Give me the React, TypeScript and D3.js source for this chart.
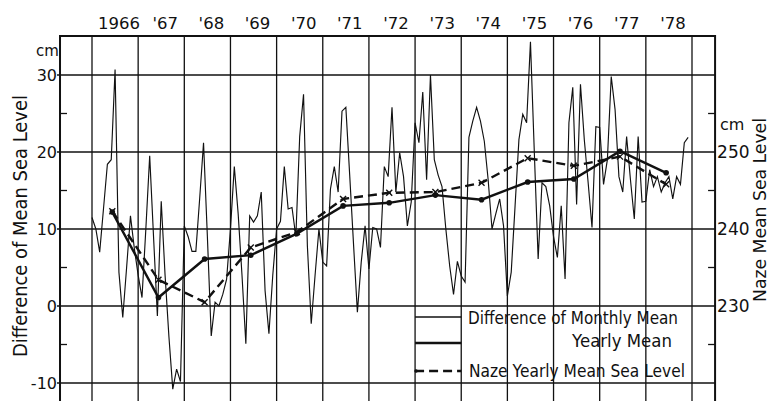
import React from 'react';
import * as d3 from 'd3';

// ---- data ----
const years = [1966, 1967, 1968, 1969, 1970, 1971, 1972, 1973, 1974, 1975, 1976, 1977, 1978];
const yearLabels = ['1966', "'67", "'68", "'69", "'70", "'71", "'72", "'73", "'74", "'75", "'76", "'77", "'78"];

// Difference of monthly mean sea level (cm), Jan..Dec of each year
const m1966 = [11.5, 10, 7, 12.7, 18.4, 19, 30.7, 4.4, -1.5, 5, 11.7, 7.5];
const m1967 = [4, 1.1, 10, 19.5, 9, -1.3, 13.6, 4, -4, -10.8, -8.2, -9.8];
const m1968 = [10.4, 9, 7.1, 7.1, 14, 21.2, 9, -3.9, 0.5, 0, 1.5, 3.5];
const m1969 = [10, 18.1, 12, 4, -4.9, 11.7, 10.9, 11.7, 14.8, 2, -3.6, 4];
const m1970 = [10, 11, 18.1, 12.6, 12.8, 9, 22, 27.5, 7.8, -2.3, 4, 10];
const m1971 = [5.7, 5.2, 15.2, 18.1, 14.8, 25.3, 25.8, 17, 8, -0.8, 5.7, 10.4];
const m1972 = [4.8, 10.2, 10, 7.6, 18.1, 16.8, 25.8, 14.8, 19.9, 16.8, 10.4, 13.5];
const m1973 = [23.8, 21.2, 27.8, 16.4, 30, 19, 17, 15.5, 10, 5.2, 1.5, 5.8];
const m1974 = [3.9, 3.1, 21.9, 24, 25.8, 24, 21.4, 16.4, 10, 12, 13.9, 10.4];
const m1975 = [1.3, 4.4, 13, 21.6, 24.9, 23.8, 34.3, 20, 6.1, 16, 15.5, 13];
const m1976 = [9, 6.3, 13, 3.5, 23.8, 28.4, 13.2, 28.8, 21.6, 16, 10.2, 23.3];
const m1977 = [23.2, 15.8, 19, 29.8, 25.5, 16.8, 14.8, 22, 16.4, 11.3, 22, 13.5];
const m1978 = [13.6, 17.7, 15.5, 16.8, 14.8, 16, 16.8, 13.9, 16.8, 15.8, 21.2, 21.9];
const monthlyByYear = [m1966, m1967, m1968, m1969, m1970, m1971, m1972, m1973, m1974, m1975, m1976, m1977, m1978];

// Yearly mean of difference (cm, left axis)
const yearlyMean = [12.2, 1.1, 6.1, 6.6, 9.4, 13.0, 13.4, 14.4, 13.8, 16.1, 16.5, 20.1, 17.3];
// Naze yearly mean sea level (cm, right axis)
const nazeYearly = [242.3, 233.4, 230.5, 237.6, 239.6, 243.9, 244.7, 244.8, 246.0, 249.2, 248.2, 249.4, 245.8];

const leftTicks = [30, 20, 10, 0, -10];
const leftMinor = [25, 15, 5, -5];
const rightTicks = [250, 240, 230];
const rightMinor = [255, 245, 235, 225];

const FONT = '"DejaVu Sans", "Liberation Sans", sans-serif';
const INK = '#111';

export default function App() {
  const W = 771, H = 401;
  const x = d3.scaleLinear().domain([1966, 1979]).range([92, 692]);
  const y = d3.scaleLinear().domain([-10, 30]).range([383, 75]);
  const yR = d3.scaleLinear().domain([220, 260]).range([383, 75]);
  const left = x(1965.307), right = x(1979.5), top = 36;

  const monthly = monthlyByYear.flatMap((arr, i) => arr.map((v, m) => ({ t: years[i] + m / 12, v })));
  const lineM = d3.line<{ t: number; v: number }>().x(d => x(d.t)).y(d => y(d.v));
  const yearly = years.map((yr, i) => ({ t: yr + 0.44, v: yearlyMean[i] }));
  const naze = years.map((yr, i) => ({ t: yr + 0.44, v: nazeYearly[i] }));
  const lineY = d3.line<{ t: number; v: number }>().x(d => x(d.t)).y(d => y(d.v));
  const lineN = d3.line<{ t: number; v: number }>().x(d => x(d.t)).y(d => yR(d.v));

  const gridYears = d3.range(1966, 1980);

  return (
    <svg width={W} height={H} style={{ position: 'absolute', left: 0, top: 0, background: '#fff' }} fontFamily={FONT}>
      <rect x={0} y={0} width={W} height={H} fill="#fff" />
      {/* vertical year gridlines */}
      {gridYears.map(g => (
        <line key={'v' + g} x1={x(g)} x2={x(g)} y1={top} y2={H} stroke={INK} strokeWidth={1.3} />
      ))}
      {/* horizontal gridlines */}
      {leftTicks.map(v => (
        <line key={'h' + v} x1={left - 3} x2={right} y1={y(v)} y2={y(v)} stroke={INK} strokeWidth={1.3} />
      ))}
      {leftMinor.map(v => (
        <line key={'lm' + v} x1={left} x2={left + 7} y1={y(v)} y2={y(v)} stroke={INK} strokeWidth={1.3} />
      ))}
      {rightMinor.map(v => (
        <line key={'rm' + v} x1={right - 7} x2={right} y1={yR(v)} y2={yR(v)} stroke={INK} strokeWidth={1.3} />
      ))}
      {/* frame */}
      <path d={`M${left},${H} V${top} H${right} V${H}`} fill="none" stroke={INK} strokeWidth={2} />

      {/* top year labels */}
      {years.map((yr, i) => (
        <text key={'yl' + yr} x={x(yr + 0.5) + 4} y={29} fontSize={16.5} textAnchor="middle" fill={INK}>{yearLabels[i]}</text>
      ))}

      {/* left axis labels */}
      {leftTicks.map(v => (
        <text key={'lt' + v} x={left - 3} y={y(v) + 6} fontSize={16} textAnchor="end" fill={INK}>{v === -10 ? '-10' : v}</text>
      ))}
      <text x={36} y={56} fontSize={15} fill={INK}>cm</text>
      <text transform={`translate(27,226) rotate(-90)`} fontSize={19} textAnchor="middle" fill={INK}
        textLength={262} lengthAdjust="spacingAndGlyphs">Difference of Mean Sea Level</text>

      {/* right axis labels */}
      {rightTicks.map(v => (
        <text key={'rt' + v} x={right + 2} y={yR(v) + 6} fontSize={17} fill={INK}>{v}</text>
      ))}
      <text x={720} y={130} fontSize={16} fill={INK}>cm</text>
      <text transform={`translate(766,210) rotate(-90)`} fontSize={18.5} textAnchor="middle" fill={INK}
        textLength={184} lengthAdjust="spacingAndGlyphs">Naze Mean Sea Level</text>

      {/* monthly difference */}
      <path d={lineM(monthly) || ''} fill="none" stroke={INK} strokeWidth={1.15} strokeLinejoin="miter" />
      {/* Naze yearly (dashed) */}
      <path d={lineN(naze) || ''} fill="none" stroke={INK} strokeWidth={2.4} strokeDasharray="9,5" />
      {naze.map((d, i) => (
        <path key={'nx' + i} d={`M${x(d.t) - 3},${yR(d.v) - 3}L${x(d.t) + 3},${yR(d.v) + 3}M${x(d.t) - 3},${yR(d.v) + 3}L${x(d.t) + 3},${yR(d.v) - 3}`}
          stroke={INK} strokeWidth={1.4} />
      ))}
      {/* yearly mean (solid) */}
      <path d={lineY(yearly) || ''} fill="none" stroke={INK} strokeWidth={2.4} />
      {yearly.map((d, i) => (
        <circle key={'yd' + i} cx={x(d.t)} cy={y(d.v)} r={2.8} fill={INK} />
      ))}

      {/* legend */}
      <line x1={x(1973)} x2={x(1974)} y1={317} y2={317} stroke={INK} strokeWidth={1.3} />
      <line x1={x(1973)} x2={x(1974)} y1={343} y2={343} stroke={INK} strokeWidth={2.4} />
      <line x1={x(1973)} x2={x(1974)} y1={371} y2={371} stroke={INK} strokeWidth={2.4} strokeDasharray="9,5" />
      <circle cx={x(1973) + 1} cy={371} r={1.8} fill={INK} />
      <text x={468} y={324} fontSize={17} fill={INK} textLength={210} lengthAdjust="spacingAndGlyphs">Difference of Monthly Mean</text>
      <text x={572} y={347} fontSize={17} fill={INK} textLength={100} lengthAdjust="spacingAndGlyphs">Yearly Mean</text>
      <text x={469} y={377} fontSize={17} fill={INK} textLength={216} lengthAdjust="spacingAndGlyphs">Naze Yearly Mean Sea Level</text>
    </svg>
  );
}
